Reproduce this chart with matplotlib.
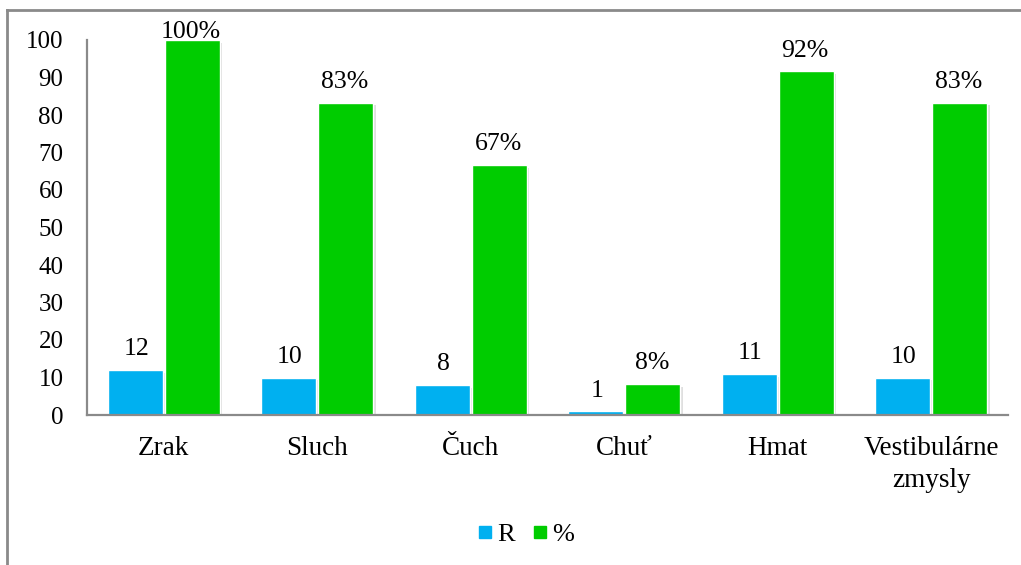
import numpy as np
import matplotlib.pyplot as plt
import matplotlib.patheffects as pe
from matplotlib.lines import Line2D

plt.rcParams['font.family'] = ['Liberation Serif', 'DejaVu Serif']

# data
categories = ['Zrak', 'Sluch', 'Čuch', 'Chuť', 'Hmat', 'Vestibulárne\nzmysly']
r_counts = [12, 10, 8, 1, 11, 10]
percents = [100, 83.33, 66.67, 8.33, 91.67, 83.33]
pct_labels = ['100%', '83%', '67%', '8%', '92%', '83%']

blue = '#00B0F0'
green = '#00CC00'
grey = '#8a8a8a'

fig = plt.figure(figsize=(10.21, 5.65), dpi=100)
ax = fig.add_axes([87/1021, 1-415/565, (1008-87)/1021, 375/565])

x = np.arange(len(categories))
w = 0.358
shadow = [pe.SimplePatchShadow(offset=(2, -2), shadow_rgbFace='gray', alpha=0.25), pe.Normal()]

b1 = ax.bar(x - w/2 - 0.006, r_counts, w, color=blue, edgecolor='white', linewidth=1, label='R')
b2 = ax.bar(x + w/2 + 0.006, percents, w, color=green, edgecolor='white', linewidth=1, label='%')
for p in list(b1) + list(b2):
    p.set_path_effects(shadow)

for i in range(len(x)):
    ax.annotate(str(r_counts[i]), (x[i] - w/2, r_counts[i]), xytext=(0, 7),
                textcoords='offset points', ha='center', va='bottom', fontsize=18.5)
    off = 7 if percents[i] < 95 else -2
    ax.annotate(pct_labels[i], (x[i] + w/2, percents[i]), xytext=(0, off),
                textcoords='offset points', ha='center', va='bottom', fontsize=18.5,
                annotation_clip=False)

ax.set_xlim(-0.5, len(categories) - 0.5)
ax.set_ylim(0, 100)
ax.set_yticks(range(0, 101, 10))
ax.set_xticks(x)
ax.set_xticklabels(categories, fontsize=19.5, linespacing=1.4)
ax.tick_params(axis='y', length=0, pad=17, labelsize=18)
ax.tick_params(axis='x', length=0, pad=15)
for s in ['top', 'right']:
    ax.spines[s].set_visible(False)
for s in ['left', 'bottom']:
    ax.spines[s].set_color(grey)
    ax.spines[s].set_linewidth(1.6)

handles = [Line2D([], [], marker='s', ls='', color=blue, markersize=8.5, label='R'),
           Line2D([], [], marker='s', ls='', color=green, markersize=8.5, label='%')]
fig.legend(handles=handles, loc='center', bbox_to_anchor=(525/1021, 1-534/565), ncol=2,
           frameon=False, fontsize=19, handletextpad=0.1, columnspacing=0.6, handlelength=0.7)

# outer chart border
fig.add_artist(Line2D([7/1021, 1.0], [1-10/565, 1-10/565], color=grey, lw=2))
fig.add_artist(Line2D([7/1021, 7/1021], [0, 1-10/565], color=grey, lw=2))

fig.savefig('out.png', dpi=100)
